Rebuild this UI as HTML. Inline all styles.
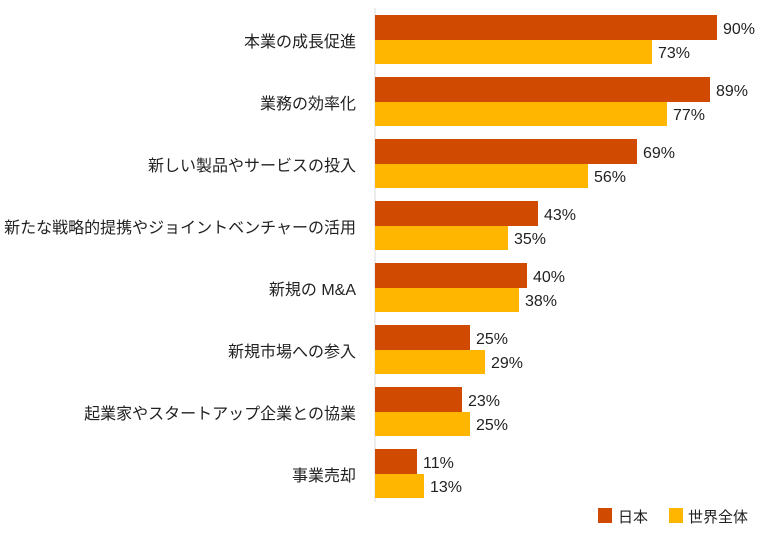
<!DOCTYPE html>
<html><head><meta charset="utf-8"><style>
html,body{margin:0;padding:0;background:#fff;}
svg{display:block;font-family:"Liberation Sans","Noto Sans CJK JP",sans-serif;}
</style></head><body>
<svg width="770" height="535" xmlns="http://www.w3.org/2000/svg">
<line x1="375" y1="8" x2="375" y2="502" stroke="#d9d9d9" stroke-width="1"/>
<g font-size="16" fill="#222" text-anchor="end">
<text x="356" y="47">本業の成長促進</text>
<text x="356" y="109">業務の効率化</text>
<text x="356" y="171">新しい製品やサービスの投入</text>
<text x="356" y="233">新たな戦略的提携やジョイントベンチャーの活用</text>
<text x="356" y="295">新規の M&amp;A</text>
<text x="356" y="357">新規市場への参入</text>
<text x="356" y="419">起業家やスタートアップ企業との協業</text>
<text x="356" y="481">事業売却</text>
</g>
<g font-size="16" fill="#222">
<rect x="375" y="15" width="342" height="25" fill="#D04A02"/><text x="723" y="34">90%</text>
<rect x="375" y="40" width="277" height="24" fill="#FFB600"/><text x="658" y="58">73%</text>
<rect x="375" y="77" width="335" height="25" fill="#D04A02"/><text x="716" y="96">89%</text>
<rect x="375" y="102" width="292" height="24" fill="#FFB600"/><text x="673" y="120">77%</text>
<rect x="375" y="139" width="262" height="25" fill="#D04A02"/><text x="643" y="158">69%</text>
<rect x="375" y="164" width="213" height="24" fill="#FFB600"/><text x="594" y="182">56%</text>
<rect x="375" y="201" width="163" height="25" fill="#D04A02"/><text x="544" y="220">43%</text>
<rect x="375" y="226" width="133" height="24" fill="#FFB600"/><text x="514" y="244">35%</text>
<rect x="375" y="263" width="152" height="25" fill="#D04A02"/><text x="533" y="282">40%</text>
<rect x="375" y="288" width="144" height="24" fill="#FFB600"/><text x="525" y="306">38%</text>
<rect x="375" y="325" width="95" height="25" fill="#D04A02"/><text x="476" y="344">25%</text>
<rect x="375" y="350" width="110" height="24" fill="#FFB600"/><text x="491" y="368">29%</text>
<rect x="375" y="387" width="87" height="25" fill="#D04A02"/><text x="468" y="406">23%</text>
<rect x="375" y="412" width="95" height="24" fill="#FFB600"/><text x="476" y="430">25%</text>
<rect x="375" y="449" width="42" height="25" fill="#D04A02"/><text x="423" y="468">11%</text>
<rect x="375" y="474" width="49" height="24" fill="#FFB600"/><text x="430" y="492">13%</text>
</g>
<rect x="598" y="508" width="14" height="15" fill="#D04A02"/>
<text x="618" y="522" font-size="15" fill="#222">日本</text>
<rect x="669" y="508" width="14" height="15" fill="#FFB600"/>
<text x="688" y="522" font-size="15" fill="#222">世界全体</text>
</svg>
</body></html>
